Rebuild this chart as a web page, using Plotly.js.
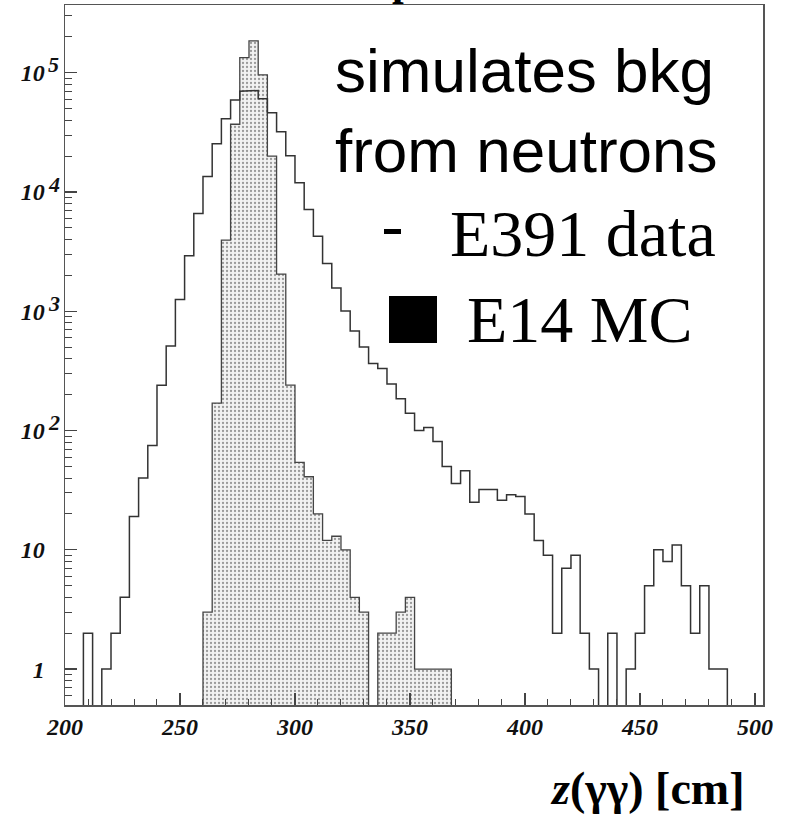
<!DOCTYPE html>
<html>
<head>
<meta charset="utf-8">
<script src="https://cdn.plot.ly/plotly-3.0.1.min.js"></script>
<style>html,body{margin:0;padding:0;background:#fff;}#chart{width:787px;height:815px;}</style>
</head>
<body>
<div id="chart"></div>
<script>
// ---- data (histograms, 4 cm bins; lower bin edges in cm) ----
const zBins = [200,204,208,212,216,220,224,228,232,236,240,244,248,252,256,260,264,268,272,276,
  280,284,288,292,296,300,304,308,312,316,320,324,328,332,336,340,344,348,352,356,
  360,364,368,372,376,380,384,388,392,396,400,404,408,412,416,420,424,428,432,436,
  440,444,448,452,456,460,464,468,472,476,480,484,488,492,496,500];
const e391Data = [0,0,2,0,1,2,4,19,40,75,240,512,1255,2920,6620,13500,25400,41200,59000,70000,
  71000,60500,46200,32000,20100,11950,7150,4250,2517,1570,1007,685,503,365,331,246,185,140,100,106,
  81,50,36,46,25,32,32,26,29,28,20,12,9,2,7,9,2,1,0,2,
  0,1,2,5,10,8,11,5,2,5,1,1,0,0,0,0];
const e14MC = [0,0,0,0,0,0,0,0,0,0,0,0,0,0,0,3,170,3950,37000,134000,
  185000,96000,20000,2050,240,54,41,20,12,13,10,4,3,0,2,2,3,4,1,1,
  1,1,0,0,0,0,0,0,0,0,0,0,0,0,0,0,0,0,0,0,
  0,0,0,0,0,0,0,0,0,0,0,0,0,0,0,0];
const yTickVals = [1,10,100,1000,10000,100000];
const yTickBase = ["1","10","10","10","10","10"];
const yTickExp  = ["","","2","3","4","5"];
const xTickVals = [200,250,300,350,400,450,500];
const legendLabels = ["E391 data","E14 MC"];
const noteLines = ["simulates bkg","from neutrons"];
const xTitle = "<i>z</i>(γγ) [cm]";
const topTitleFragment = "p";

// ---- build step outlines from the bins ----
const binW = zBins[1]-zBins[0];
const FLOOR = 0.01; // empty bins drawn below the frame (log axis)
function steps(counts){
  const xs=[], ys=[];
  xs.push(zBins[0]); ys.push(FLOOR);
  for(let i=0;i<zBins.length;i++){
    const v = counts[i]>0 ? counts[i] : FLOOR;
    xs.push(zBins[i]); ys.push(v);
    xs.push(zBins[i]+binW); ys.push(v);
  }
  xs.push(zBins[zBins.length-1]+binW); ys.push(FLOOR);
  return {xs, ys};
}
const mc = steps(e14MC);
const da = steps(e391Data);

const traces = [
  {type:'scatter', mode:'lines', x: mc.xs, y: mc.ys, fill:'toself',
   fillcolor:'#ececec',
   fillpattern:{shape:'.', fgcolor:'#9a9a9a', bgcolor:'#f2f2f2', size:4, solidity:0.25},
   line:{color:'#444', width:1.3}, hoverinfo:'skip', showlegend:false},
  {type:'scatter', mode:'lines', x: da.xs, y: da.ys,
   line:{color:'#333', width:1.5}, hoverinfo:'skip', showlegend:false}
];

// minor log ticks
const minorVals=[];
for(let d=-1; d<=5; d++){ for(let k=2;k<=9;k++){ minorVals.push(k*Math.pow(10,d)); } }

// plot area geometry (px) for paper conversion of decorations
const W=787, H=815, ML=65, MR=24, MT=5, MB=110;
const PW=W-ML-MR, PH=H-MT-MB;
const px = p => (p-ML)/PW;
const py = p => (H-MB-p)/PH;

const serif = 'Liberation Serif, Times New Roman, serif';
const sans = 'Liberation Sans, Arial, sans-serif';
const tickFont = {family:serif, size:24, color:'#111', weight:'bold', style:'italic'};

const annotations = [
  {xref:'paper', yref:'paper', x:px(333), y:py(70), xanchor:'left', yanchor:'middle', showarrow:false,
   text:noteLines[0], font:{family:sans, size:62, color:'#000'}},
  {xref:'paper', yref:'paper', x:px(333), y:py(150), xanchor:'left', yanchor:'middle', showarrow:false,
   text:noteLines[1], font:{family:sans, size:62, color:'#000'}},
  {xref:'paper', yref:'paper', x:px(448), y:py(233), xanchor:'left', yanchor:'middle', showarrow:false,
   text:legendLabels[0], font:{family:serif, size:66, color:'#000'}},
  {xref:'paper', yref:'paper', x:px(465), y:py(319.5), xanchor:'left', yanchor:'middle', showarrow:false,
   text:legendLabels[1], font:{family:serif, size:66, color:'#000'}},
  {xref:'paper', yref:'paper', x:px(746), y:py(788), xanchor:'right', yanchor:'middle', showarrow:false,
   text:xTitle, font:{family:serif, size:46, color:'#000', weight:'bold'}},
  {xref:'paper', yref:'paper', x:px(403), y:py(-19), xanchor:'center', yanchor:'middle', showarrow:false,
   text:topTitleFragment, font:{family:serif, size:42, color:'#000', weight:'bold'}}
];
// raised exponents of the y tick labels (ROOT style 10^n)
yTickVals.forEach((v,i)=>{
  if(yTickExp[i]){
    annotations.push({xref:'paper', yref:'y', x:px(46), y:Math.log10(v), xanchor:'left', yanchor:'middle',
      yshift:8, showarrow:false, text:yTickExp[i], font:{family:serif, size:22, color:'#111', weight:'bold', style:'italic'}});
  }
});

const layout = {
  width:W, height:H,
  margin:{l:ML, r:MR, t:MT, b:MB},
  paper_bgcolor:'#fff', plot_bgcolor:'#fff',
  showlegend:false,
  xaxis:{range:[200,503.5], tickmode:'array', tickvals:xTickVals,
    ticks:'inside', ticklen:12, tickwidth:1.2, tickcolor:'#444',
    minor:{dtick:10, tick0:200, ticks:'inside', ticklen:6, tickwidth:1, tickcolor:'#444'},
    showline:true, linecolor:'#555', linewidth:1.5, mirror:true,
    showgrid:false, zeroline:false, tickfont:tickFont},
  yaxis:{type:'log', range:[Math.log10(0.5), 5.568], tickmode:'array', tickvals:yTickVals, ticktext:yTickBase,
    ticks:'inside', ticklen:12, tickwidth:1.2, tickcolor:'#444', ticklabelstandoff:14,
    minor:{tickmode:'array', tickvals:minorVals, ticks:'inside', ticklen:7, tickwidth:1, tickcolor:'#444'},
    showline:true, linecolor:'#555', linewidth:1.5, mirror:true,
    showgrid:false, zeroline:false, tickfont:tickFont},
  annotations: annotations,
  shapes:[
    {type:'rect', xref:'paper', yref:'paper', x0:px(384), x1:px(401), y0:py(229), y1:py(234),
     fillcolor:'#000', line:{width:0}},
    {type:'rect', xref:'paper', yref:'paper', x0:px(389), x1:px(437), y0:py(296), y1:py(343),
     fillcolor:'#000', line:{width:0}}
  ]
};

Plotly.newPlot('chart', traces, layout, {staticPlot:true, displayModeBar:false});
</script>
</body>
</html>
